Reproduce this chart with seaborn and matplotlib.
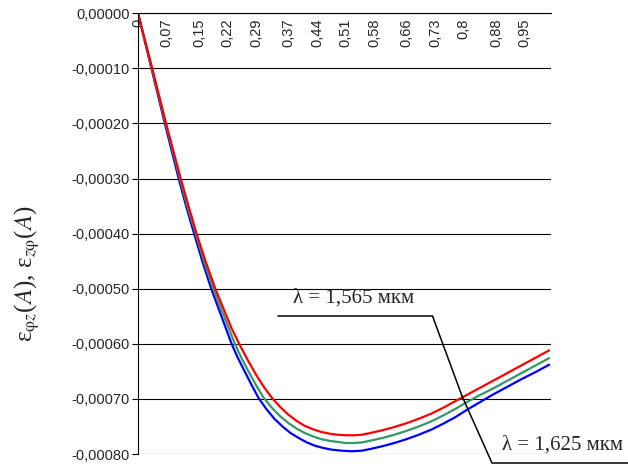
import numpy as np
import pandas as pd
import matplotlib
matplotlib.use('Agg')
import matplotlib.pyplot as plt
from matplotlib.lines import Line2D
import seaborn as sns

# DATA (y in units of 1e-4)
x_red = [0, 0.035, 0.069, 0.105, 0.125, 0.144, 0.165, 0.19, 0.21, 0.23, 0.25,
         0.27, 0.29, 0.31, 0.33, 0.35, 0.37, 0.39, 0.41, 0.43, 0.45, 0.47,
         0.49, 0.51, 0.53, 0.55, 0.57, 0.60, 0.63, 0.66, 0.69, 0.72, 0.75,
         0.78, 0.82, 0.86, 0.90, 0.94, 0.98, 1.01]
y_red = [0, -1.0, -2.0, -3.0, -3.52, -4.0, -4.48, -5.0, -5.36, -5.72, -6.02,
         -6.30, -6.56, -6.79, -6.99, -7.15, -7.29, -7.40, -7.49, -7.55, -7.60, -7.63,
         -7.65, -7.66, -7.66, -7.65, -7.62, -7.57, -7.51, -7.44, -7.36, -7.27, -7.16,
         -7.04, -6.88, -6.72, -6.56, -6.40, -6.24, -6.12]

x_green = [0, 0.034, 0.068, 0.103, 0.122, 0.142, 0.162, 0.185, 0.205, 0.22, 0.238,
           0.255, 0.27, 0.29, 0.308, 0.33, 0.35, 0.37, 0.39, 0.41, 0.43, 0.45,
           0.47, 0.49, 0.51, 0.53, 0.55, 0.57, 0.60, 0.63, 0.66, 0.69, 0.72,
           0.75, 0.78, 0.81, 0.84, 0.87, 0.90, 0.94, 0.98, 1.01]
y_green = [0, -1.0, -2.0, -3.0, -3.52, -4.0, -4.5, -5.0, -5.38, -5.66, -6.0,
           -6.27, -6.48, -6.75, -6.97, -7.17, -7.32, -7.44, -7.54, -7.62, -7.68, -7.73,
           -7.76, -7.78, -7.80, -7.80, -7.79, -7.76, -7.71, -7.65, -7.58, -7.50, -7.41,
           -7.30, -7.18, -7.05, -6.93, -6.82, -6.70, -6.54, -6.38, -6.26]

x_blue = [0, 0.033, 0.066, 0.100, 0.119, 0.138, 0.158, 0.180, 0.20, 0.215, 0.230,
          0.245, 0.262, 0.28, 0.296, 0.315, 0.335, 0.355, 0.375, 0.395, 0.415, 0.435,
          0.455, 0.475, 0.50, 0.525, 0.55, 0.57, 0.60, 0.63, 0.66, 0.69, 0.72,
          0.75, 0.78, 0.81, 0.84, 0.87, 0.90, 0.94, 0.98, 1.01]
y_blue = [0, -1.0, -2.0, -3.0, -3.52, -4.0, -4.5, -5.0, -5.4, -5.7, -6.0,
          -6.25, -6.5, -6.76, -6.98, -7.18, -7.36, -7.50, -7.62, -7.71, -7.79, -7.85,
          -7.89, -7.92, -7.94, -7.95, -7.94, -7.91, -7.86, -7.80, -7.73, -7.65, -7.56,
          -7.45, -7.33, -7.19, -7.06, -6.93, -6.81, -6.65, -6.50, -6.38]

x_tick_labels = ['0', '0,07', '0,15', '0,22', '0,29', '0,37', '0,44', '0,51',
                 '0,58', '0,66', '0,73', '0,8', '0,88', '0,95']
y_ticks = [0, -0.0001, -0.0002, -0.0003, -0.0004, -0.0005, -0.0006, -0.0007, -0.0008]
y_tick_labels = ['0,00000', '-0,00010', '-0,00020', '-0,00030', '-0,00040',
                 '-0,00050', '-0,00060', '-0,00070', '-0,00080']

series = {'red': (x_red, y_red), 'green': (x_green, y_green), 'blue': (x_blue, y_blue)}
frames = []
for name, (xs, ys) in series.items():
    frames.append(pd.DataFrame({'A': xs, 'eps': np.array(ys) * 1e-4, 'line': name}))
df = pd.concat(frames, ignore_index=True)

sns.set_style('white')
plt.rcParams['font.family'] = ['Liberation Sans', 'DejaVu Sans']
plt.rcParams['mathtext.fontset'] = 'stix'

fig = plt.figure(figsize=(6.28, 4.66), dpi=100)
ax = fig.add_axes([138 / 628, 1 - 454 / 466, 413 / 628, (454 - 13.3) / 466])

sns.lineplot(
    data=df,
    x='A',
    y='eps',
    hue='line',
    palette={'red': '#ff0000', 'green': '#339966', 'blue': '#0000ff'},
    hue_order=['blue', 'green', 'red'],
    linewidth=1.6,
    legend=False,
    sort=False,
    ax=ax
)

# x axis crosses at zero -> labels hang inside the plot under the top line
ax.spines['bottom'].set_position(('data', 0))
ax.spines['top'].set_visible(False)
ax.spines['right'].set_visible(False)
for s in ['left', 'bottom']:
    ax.spines[s].set_color('black')
    ax.spines[s].set_linewidth(0.8)

ax.set_xlim(0, 413 / 407)
ax.set_ylim(-0.0008, 0)

ax.set_yticks(y_ticks)
ax.set_yticklabels(y_tick_labels)
ax.yaxis.grid(True, color='black', linewidth=0.8)
ax.tick_params(axis='y', direction='out', length=4, width=0.8, color='black',
               pad=2, left=True, labelsize=10.5)

x_ticks = [float(t.replace(',', '.')) for t in x_tick_labels]
ax.set_xticks(x_ticks)
ax.set_xticklabels(x_tick_labels)
ax.tick_params(axis='x', length=0, pad=4, labelrotation=90, labelsize=10.5)

ax.set_xlabel('')
ax.set_ylabel(r'ε$_{\mathrm{φ}z}$($A$), ε$_{z\mathrm{φ}}$($A$)',
              family='Liberation Serif', fontsize=18, va='center')
ax.yaxis.set_label_coords(-0.268, 0.41)

# callout lines
def fx(px):
    return px / 628

def fy(py):
    return 1 - py / 466

fig.add_artist(Line2D([fx(278), fx(432.5), fx(462)], [fy(316), fy(316), fy(396)],
                      color='black', linewidth=1.1))
fig.add_artist(Line2D([fx(462), fx(492), fx(628)], [fy(396), fy(463), fy(463)],
                      color='black', linewidth=1.1))

fig.text(fx(354), fy(298), 'λ = 1,565 мкм', family='Liberation Serif', fontsize=15,
         ha='center', va='center')
fig.text(fx(562), fy(445), 'λ = 1,625 мкм', family='Liberation Serif', fontsize=15,
         ha='center', va='center')

fig.savefig('out.png', dpi=100)
